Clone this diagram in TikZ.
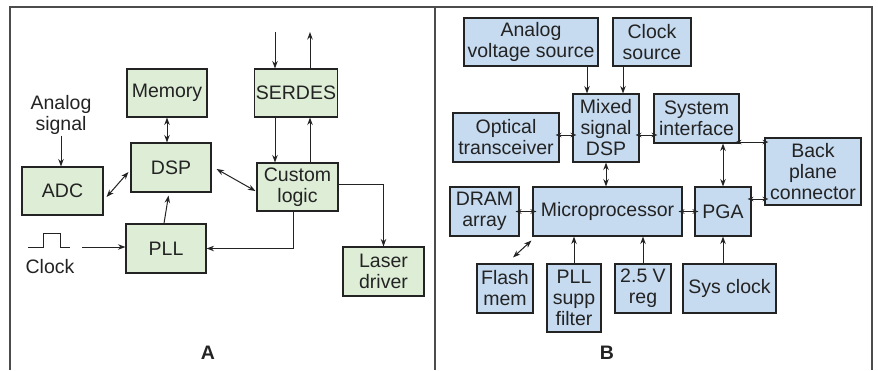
\documentclass[tikz,border=0pt]{standalone}
\usepackage{fontspec}
\setmainfont{Liberation Sans}
\usetikzlibrary{arrows.meta}
\definecolor{boxgreen}{RGB}{221,237,214}
\definecolor{boxblue}{RGB}{198,218,240}
\definecolor{ink}{RGB}{35,35,35}
\newcommand\blkfont{\fontsize{19.5}{21}\selectfont}
\tikzset{
 blk/.style={draw=ink, line width=1.1pt, inner sep=1pt, align=center, font=\blkfont, text=ink},
 grn/.style={blk, fill=boxgreen},
 blu/.style={blk, fill=boxblue},
 conn/.style={draw=ink, line width=1pt, ->},
 dconn/.style={draw=ink, line width=1pt, <->},
 sdconn/.style={draw=ink, line width=1pt, {Stealth[length=6pt,width=4.5pt]}-{Stealth[length=6pt,width=4.5pt]}, shorten <=-4pt, shorten >=-4pt},
 frame/.style={draw=black!70, line width=1.6pt},
 lbl/.style={font=\blkfont\bfseries, inner sep=0pt, text=ink}
}
\begin{document}
\begin{tikzpicture}[x=1pt, y=-1pt, >={Stealth[length=7.5pt,width=5.5pt]}]
 \useasboundingbox (0,0) rectangle (878,370);
 % Khung hai phan
 \draw[frame] (10,370) -- (10,7) -- (872,7) -- (872,370);
 \draw[frame] (435,7) -- (435,370);
 % Phan A
 \node[grn, minimum width=80, minimum height=48] (mem) at (167,93) {Memory};
 \node[grn, minimum width=80, minimum height=48] (serdes) at (296,93) {SERDES};
 \node[grn, minimum width=80, minimum height=49] (dsp) at (171,167.5) {DSP};
 \node[grn, minimum width=81, minimum height=48] (adc) at (62.5,191) {ADC};
 \node[grn, minimum width=81, minimum height=48] (cust) at (297.5,187) {Custom\\logic};
 \node[grn, minimum width=80, minimum height=49] (pll) at (166,248.5) {PLL};
 \node[grn, minimum width=81, minimum height=49] (laser) at (383.5,271.5) {Laser\\driver};
 \node[font=\blkfont, text=ink, align=center, inner sep=1pt] (ansig) at (61,115) {Analog\\signal};
 \node[font=\blkfont, text=ink, inner sep=1pt] (clk) at (50,267) {Clock};
 \coordinate (clkin) at (82,247);
 \coordinate (sin) at (275,32);
 \coordinate (sout) at (310,32);
 \draw[line width=1pt, ink] (28,247) -- (43,247) -- (43,233) -- (60,233) -- (60,247) -- (70,247);
 \draw[conn] (ansig) -- (ansig |- adc.north);
 \draw[dconn] (mem.south) -- (mem.south |- dsp.north);
 \draw[dconn] ([xshift=3pt,yshift=-6pt]adc.east) -- ([xshift=-2pt,yshift=-4.5pt]dsp.west);
 \draw[dconn] ([xshift=5pt,yshift=-1.5pt]dsp.east) -- ([xshift=-1pt,yshift=-4pt]cust.west);
 \draw[conn] (sin) -- (sin |- serdes.north);
 \draw[conn] (sout |- serdes.north) -- (sout);
 \draw[conn] (sin |- serdes.south) -- (sin |- cust.north);
 \draw[conn] (sout |- cust.north) -- (sout |- serdes.south);
 \draw[conn] ([yshift=3pt]cust.east) -| (laser.north);
 \draw[conn] ([xshift=-4.5pt]cust.south) |- (pll.east);
 \draw[conn, shorten >=3pt] ([xshift=-2pt]pll.north) -- ([xshift=-2pt]dsp.south);
 \draw[conn] (clkin) -- (clkin -| pll.west);
 \node[lbl] (labA) at (208,353) {A};
 % Phan B
 \node[blu, minimum width=134, minimum height=48] (avs) at (531,42) {Analog\\voltage source};
 \node[blu, minimum width=78, minimum height=48] (clks) at (652,42) {Clock\\source};
 \node[blu, minimum width=66, minimum height=68] (msdsp) at (606,128) {Mixed\\signal\\DSP};
 \node[blu, minimum width=85, minimum height=49] (sysif) at (696.5,118.5) {System\\interface};
 \node[blu, minimum width=106, minimum height=49] (optx) at (506,137.5) {Optical\\transceiver};
 \node[blu, minimum width=96, minimum height=67] (bpc) at (813,171.5) {Back\\plane\\connector};
 \node[blu, minimum width=69, minimum height=49] (dram) at (484.5,211.5) {DRAM\\array};
 \node[blu, minimum width=149, minimum height=49] (mpu) at (607.5,211.5) {Microprocessor};
 \node[blu, minimum width=56, minimum height=49] (pga) at (723,211.5) {PGA};
 \node[blu, minimum width=56, minimum height=49] (flash) at (505,288.5) {Flash\\mem};
 \node[blu, minimum width=54, minimum height=68] (pllf) at (574,298) {PLL\\supp\\filter};
 \node[blu, minimum width=56, minimum height=49] (reg) at (643,288.5) {2.5 V\\reg};
 \node[blu, minimum width=93, minimum height=49] (sysclk) at (729.5,288.5) {Sys clock};
 \draw[conn] ([xshift=-19pt]msdsp.north |- avs.south) -- ([xshift=-19pt]msdsp.north);
 \draw[conn] ([xshift=17pt]msdsp.north |- clks.south) -- ([xshift=17pt]msdsp.north);
 \draw[sdconn] ([yshift=2.5pt]optx.east) -- ([yshift=2.5pt]optx.east -| msdsp.west);
 \draw[sdconn] ([yshift=-7pt]msdsp.east) -- ([yshift=-7pt]msdsp.east -| sysif.west);
 \draw[dconn] (msdsp.south) -- (msdsp.south |- mpu.north);
 \draw[dconn] (pga.north |- sysif.south) -- (pga.north);
 \draw[sdconn] ([yshift=1.5pt]sysif.south east) -- ([yshift=1.5pt]sysif.south east -| bpc.west);
 \draw[sdconn] ([yshift=12.5pt]pga.east) -- ([yshift=12.5pt]pga.east -| bpc.west);
 \draw[sdconn] (dram.east) -- (mpu.west);
 \draw[sdconn] (mpu.east) -- (pga.west);
 \draw[dconn] ([xshift=8pt,yshift=6pt]flash.north) -- ([xshift=-1pt,yshift=-4pt]mpu.south west);
 \draw[conn] (pllf.north) -- (pllf.north |- mpu.south);
 \draw[conn] (reg.north) -- (reg.north |- mpu.south);
 \draw[conn] (pga.south |- sysclk.north) -- (pga.south);
 \node[lbl] (labB) at (607,353) {B};
\end{tikzpicture}
\end{document}
